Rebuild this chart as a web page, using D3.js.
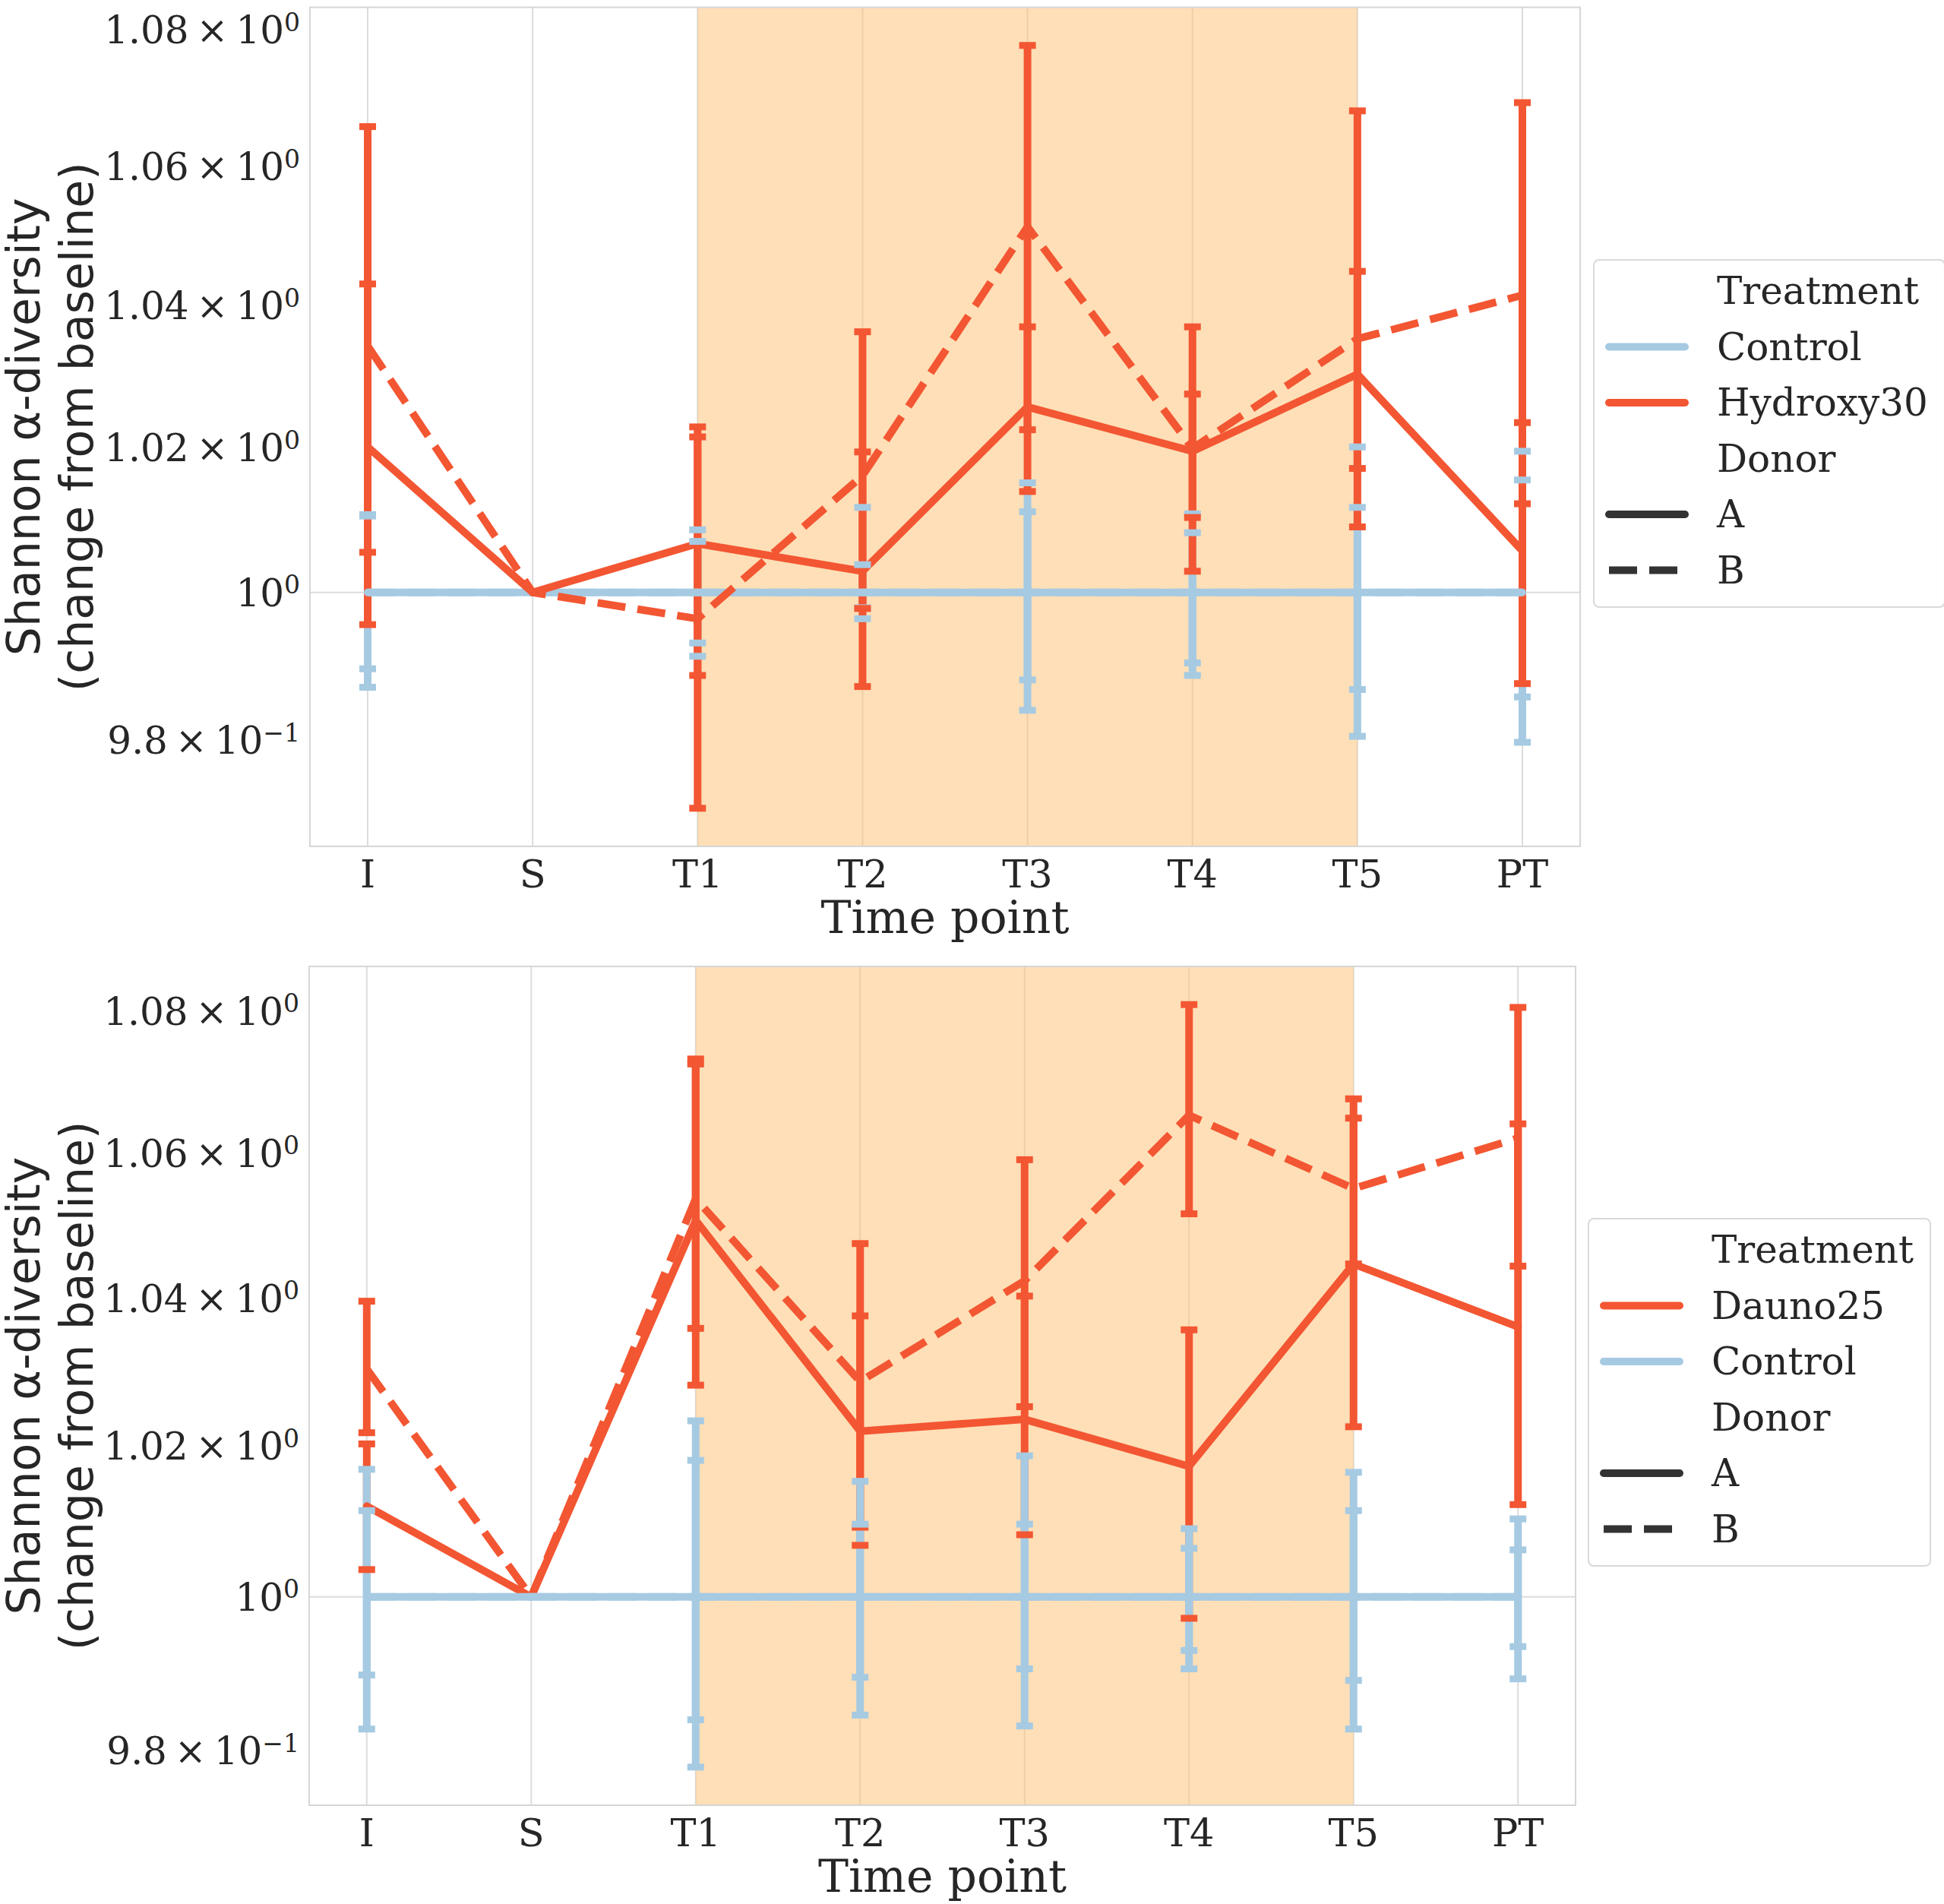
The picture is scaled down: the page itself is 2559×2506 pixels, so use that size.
<!DOCTYPE html>
<html>
<head>
<meta charset="utf-8">
<script src="https://cdn.jsdelivr.net/npm/d3@7"></script>
<style>
  body { margin: 0; background: #fff; }
</style>
</head>
<body>
<script>
// ---- data ----
const timePoints = ['I', 'S', 'T1', 'T2', 'T3', 'T4', 'T5', 'PT'];
const treatedSpan = ['T1', 'T5'];

const yTickValues = [0.98, 1.0, 1.02, 1.04, 1.06, 1.08];
const yTickMantissa = ['9.8', '', '1.02', '1.04', '1.06', '1.08'];
const yTickExponent = ['\u22121', '0', '0', '0', '0', '0'];

// top panel: Hydroxy30 vs Control
const hydroxyA_mean = [1.0201, 1.0, 1.0067, 1.0029, 1.0257, 1.0195, 1.0303, 1.0057];
const hydroxyA_low  = [0.9956, null, 0.9887, 0.9872, 1.0139, 1.0029, 1.0090, 0.9876];
const hydroxyA_high = [1.0431, null, 1.0229, 1.0194, 1.0370, 1.0370, 1.0449, 1.0235];
const hydroxyB_mean = [1.0343, 1.0, 0.9964, 1.0161, 1.0513, 1.0199, 1.0353, 1.0415];
const hydroxyB_low  = [1.0055, null, 0.9709, 0.9978, 1.0225, 1.0103, 1.0171, 1.0122];
const hydroxyB_high = [1.0658, null, 1.0215, 1.0363, 1.0777, 1.0275, 1.0681, 1.0693];
const controlTop_mean   = [1.0, 1.0, 1.0, 1.0, 1.0, 1.0, 1.0, 1.0];
const controlTopA_low   = [0.9871, null, 0.9913, 0.9964, 0.9840, 0.9887, 0.9805, 0.9797];
const controlTopA_high  = [1.0107, null, 1.0086, 1.0117, 1.0151, 1.0108, 1.0201, 1.0195];
const controlTopB_low   = [0.9896, null, 0.9931, 0.9979, 0.9881, 0.9904, 0.9868, 0.9858];
const controlTopB_high  = [1.0105, null, 1.0070, 1.0038, 1.0111, 1.0082, 1.0117, 1.0155];

// bottom panel: Dauno25 vs Control
const daunoA_mean = [1.0120, 1.0, 1.0507, 1.0220, 1.0236, 1.0173, 1.0447, 1.0361];
const daunoA_low  = [1.0036, null, 1.0282, 1.0068, 1.0082, 0.9972, 1.0226, 1.0122];
const daunoA_high = [1.0203, null, 1.0725, 1.0376, 1.0403, 1.0357, 1.0649, 1.0641];
const daunoB_mean = [1.0304, 1.0, 1.0537, 1.0287, 1.0424, 1.0653, 1.0551, 1.0621];
const daunoB_low  = [1.0218, null, 1.0359, 1.0092, 1.0253, 1.0516, 1.0447, 1.0444];
const daunoB_high = [1.0396, null, 1.0732, 1.0475, 1.0591, 1.0809, 1.0676, 1.0805];
const controlBottom_mean  = [1.0, 1.0, 1.0, 1.0, 1.0, 1.0, 1.0, 1.0];
const controlBottomA_low  = [0.9828, null, 0.9779, 0.9846, 0.9832, 0.9906, 0.9828, 0.9893];
const controlBottomA_high = [1.0169, null, 1.0234, 1.0153, 1.0187, 1.0090, 1.0165, 1.0103];
const controlBottomB_low  = [0.9898, null, 0.9840, 0.9895, 0.9906, 0.9930, 0.9891, 0.9935];
const controlBottomB_high = [1.0114, null, 1.0181, 1.0096, 1.0096, 1.0064, 1.0114, 1.0062];

const donors = ['A', 'B'];

// ---- styling ----
const colors = { Control: '#a6cae2', Hydroxy30: '#f35632', Dauno25: '#f35632' };
const dashFor = { A: null, B: '37,16' };
const serif = '"DejaVu Serif", serif';
const sans = '"DejaVu Sans", sans-serif';

const panels = [
  {
    box: { left: 408, right: 2080, top: 9.6, bottom: 1114 },
    legend: { x: 2098, y: 342 },
    treatments: ['Control', 'Hydroxy30'],
    series: [
      { treatment: 'Control',   donor: 'A', mean: controlTop_mean, low: controlTopA_low, high: controlTopA_high },
      { treatment: 'Control',   donor: 'B', mean: controlTop_mean, low: controlTopB_low, high: controlTopB_high },
      { treatment: 'Hydroxy30', donor: 'A', mean: hydroxyA_mean, low: hydroxyA_low, high: hydroxyA_high },
      { treatment: 'Hydroxy30', donor: 'B', mean: hydroxyB_mean, low: hydroxyB_low, high: hydroxyB_high }
    ]
  },
  {
    box: { left: 407, right: 2074, top: 1272, bottom: 2376 },
    legend: { x: 2091, y: 1604 },
    treatments: ['Dauno25', 'Control'],
    series: [
      { treatment: 'Dauno25', donor: 'A', mean: daunoA_mean, low: daunoA_low, high: daunoA_high },
      { treatment: 'Dauno25', donor: 'B', mean: daunoB_mean, low: daunoB_low, high: daunoB_high },
      { treatment: 'Control', donor: 'A', mean: controlBottom_mean, low: controlBottomA_low, high: controlBottomA_high },
      { treatment: 'Control', donor: 'B', mean: controlBottom_mean, low: controlBottomB_low, high: controlBottomB_high }
    ]
  }
];

const svg = d3.select('body').append('svg')
  .attr('width', 2559)
  .attr('height', 2506)
  .style('display', 'block');

panels.forEach(p => drawPanel(p));

function drawPanel(p) {
  const b = p.box;
  const g = svg.append('g');

  const x = d3.scalePoint()
    .domain(timePoints)
    .range([b.left, b.right])
    .padding(0.35);

  // log axis limits like matplotlib: data range plus 5% margin in log space
  const vals = [];
  p.series.forEach(s => {
    s.mean.forEach((v, i) => {
      vals.push(v);
      if (s.low[i] != null) vals.push(s.low[i], s.high[i]);
    });
  });
  const lo = Math.log(d3.min(vals)), hi = Math.log(d3.max(vals));
  const m = (hi - lo) * 0.05;
  const y = d3.scaleLog()
    .domain([Math.exp(lo - m), Math.exp(hi + m)])
    .range([b.bottom, b.top]);

  // grid
  g.selectAll('.vgrid').data(timePoints).enter().append('line')
    .attr('x1', d => x(d)).attr('x2', d => x(d))
    .attr('y1', b.top).attr('y2', b.bottom)
    .attr('stroke', '#dcdcdc').attr('stroke-width', 2);
  g.append('line')
    .attr('x1', b.left).attr('x2', b.right)
    .attr('y1', y(1)).attr('y2', y(1))
    .attr('stroke', '#dcdcdc').attr('stroke-width', 2);

  // treatment period
  g.append('rect')
    .attr('x', x(treatedSpan[0]))
    .attr('width', x(treatedSpan[1]) - x(treatedSpan[0]))
    .attr('y', b.top).attr('height', b.bottom - b.top)
    .attr('fill', '#fdbf6f').attr('fill-opacity', 0.5);

  // frame
  g.append('rect')
    .attr('x', b.left).attr('y', b.top)
    .attr('width', b.right - b.left).attr('height', b.bottom - b.top)
    .attr('fill', 'none').attr('stroke', '#d6d6d6').attr('stroke-width', 2);

  const pts = s => timePoints.map((t, i) => ({ t, v: s.mean[i], lo: s.low[i], hi: s.high[i] }));
  const withErr = s => pts(s).filter(d => d.lo != null);

  // error bars (below lines)
  p.series.forEach(s => {
    g.append('g').selectAll('line').data(withErr(s)).enter().append('line')
      .attr('x1', d => x(d.t)).attr('x2', d => x(d.t))
      .attr('y1', d => y(d.lo)).attr('y2', d => y(d.hi))
      .attr('stroke', colors[s.treatment]).attr('stroke-width', 10);
  });

  // lines
  const line = d3.line().x(d => x(d.t)).y(d => y(d.v));
  p.series.forEach(s => {
    g.append('path')
      .datum(pts(s))
      .attr('d', line)
      .attr('fill', 'none')
      .attr('stroke', colors[s.treatment])
      .attr('stroke-width', 10)
      .attr('stroke-linejoin', 'round')
      .attr('stroke-linecap', dashFor[s.donor] ? 'butt' : 'round')
      .attr('stroke-dasharray', dashFor[s.donor]);
  });

  // caps (on top)
  p.series.forEach(s => {
    const cg = g.append('g');
    withErr(s).forEach(d => {
      [d.lo, d.hi].forEach(v => {
        cg.append('line')
          .attr('x1', x(d.t) - 11).attr('x2', x(d.t) + 11)
          .attr('y1', y(v)).attr('y2', y(v))
          .attr('stroke', colors[s.treatment]).attr('stroke-width', 9);
      });
    });
  });

  // x tick labels
  g.selectAll('.xt').data(timePoints).enter().append('text')
    .attr('x', d => x(d)).attr('y', b.bottom + 54)
    .attr('text-anchor', 'middle')
    .attr('font-family', serif).attr('font-size', 51).attr('fill', '#262626')
    .text(d => d);

  g.append('text')
    .attr('x', (b.left + b.right) / 2).attr('y', b.bottom + 114)
    .attr('text-anchor', 'middle')
    .attr('font-family', serif).attr('font-size', 60).attr('fill', '#262626')
    .text('Time point');

  // y tick labels (mathtext style)
  yTickValues.forEach((v, i) => {
    const t = g.append('text')
      .attr('x', b.left - 13).attr('y', y(v) + 18)
      .attr('text-anchor', 'end')
      .attr('font-family', serif).attr('font-size', 50).attr('fill', '#262626');
    if (yTickMantissa[i]) t.append('tspan').text(yTickMantissa[i] + '\u2009\u00d7\u2009');
    t.append('tspan').text('10');
    t.append('tspan').attr('dy', '-0.5em').attr('font-size', '0.66em').text(yTickExponent[i]);
  });

  // y label
  const cy = (b.top + b.bottom) / 2;
  const yl = g.append('text')
    .attr('transform', `translate(52,${cy}) rotate(-90)`)
    .attr('text-anchor', 'middle')
    .attr('font-family', sans).attr('font-size', 60).attr('fill', '#262626');
  yl.append('tspan').attr('x', 0).attr('y', 0).text('Shannon \u03b1-diversity');
  yl.append('tspan').attr('x', 0).attr('y', 70).text('(change from baseline)');

  drawLegend(p);
}

function drawLegend(p) {
  const L = p.legend;
  const lg = svg.append('g');
  const box = lg.append('rect');
  const rows = [{ label: 'Treatment' }]
    .concat(p.treatments.map(t => ({ label: t, color: colors[t] })))
    .concat([{ label: 'Donor' }])
    .concat(donors.map(d => ({ label: d, color: '#333333', dash: dashFor[d] })));

  const textX = L.x + 162;
  let maxW = 0;
  rows.forEach((r, i) => {
    const base = L.y + 58 + i * 73.5;
    if (r.color) {
      lg.append('line')
        .attr('x1', L.x + 20).attr('x2', L.x + 120)
        .attr('y1', base - 17).attr('y2', base - 17)
        .attr('stroke', r.color).attr('stroke-width', 10)
        .attr('stroke-linecap', r.dash ? 'butt' : 'round')
        .attr('stroke-dasharray', r.dash);
    }
    const t = lg.append('text')
      .attr('x', textX).attr('y', base)
      .attr('font-family', serif).attr('font-size', 50).attr('fill', '#262626')
      .text(r.label);
    maxW = Math.max(maxW, t.node().getComputedTextLength());
  });

  box.attr('x', L.x).attr('y', L.y)
    .attr('width', textX + maxW + 22 - L.x).attr('height', 457)
    .attr('rx', 7)
    .attr('fill', '#fff').attr('fill-opacity', 0.8)
    .attr('stroke', '#d9d9d9').attr('stroke-width', 2);
}
</script>
</body>
</html>
